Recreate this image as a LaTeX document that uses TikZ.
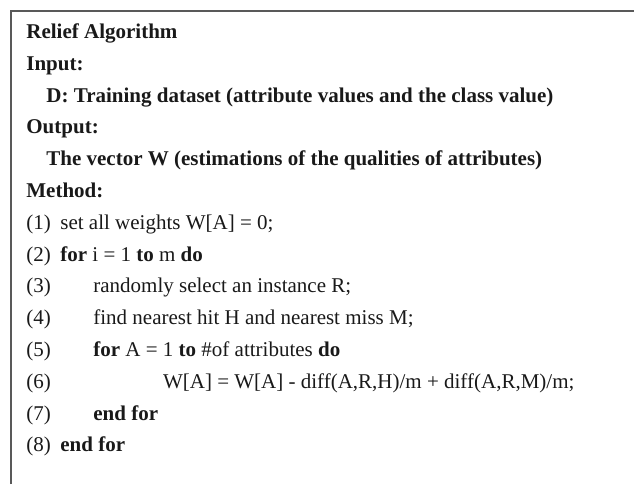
\documentclass[tikz,border=0pt]{standalone}
\usepackage{fontspec}
\setmainfont{Liberation Serif}

\begin{document}
\begin{tikzpicture}[x=0.5pt,y=-0.5pt,
    algline/.style={anchor=base west, inner sep=0pt, text=black!90,
      font=\fontsize{10.5}{12}\selectfont},
    alghead/.style={algline, font=\fontsize{10.5}{12}\selectfont\bfseries}]
        \useasboundingbox (0,0) rectangle (634,484);

        % Frame (open at right and bottom)
        \draw[black!65, line width=0.75pt] (11,484) -- (11,11) -- (634,11);

        % Header
        \node[alghead] (title) at (26,38.5) {Relief Algorithm};
        \node[alghead] (input) at (26,70.3) {Input:};
        \node[alghead] (data) at (46,102.1) {D: Training dataset (attribute values and the class value)};
        \node[alghead] (output) at (26,133.9) {Output:};
        \node[alghead] (vec) at (46,165.7) {The vector W (estimations of the qualities of attributes)};
        \node[alghead] (method) at (26,197.5) {Method:};

        % Line numbers
        \node[algline] (n1) at (26,229.3) {(1)};
        \node[algline] (n2) at (26,261.1) {(2)};
        \node[algline] (n3) at (26,292.9) {(3)};
        \node[algline] (n4) at (26,324.7) {(4)};
        \node[algline] (n5) at (26,356.5) {(5)};
        \node[algline] (n6) at (26,388.3) {(6)};
        \node[algline] (n7) at (26,420.1) {(7)};
        \node[algline] (n8) at (26,451.9) {(8)};

        % Steps
        \node[algline] (s1) at (60,229.3) {set all weights W[A] = 0;};
        \node[algline] (s2) at (60,261.1) {\textbf{for} i = 1 \textbf{to} m \textbf{do}};
        \node[algline] (s3) at (93,292.9) {randomly select an instance R;};
        \node[algline] (s4) at (93,324.7) {find nearest hit H and nearest miss M;};
        \node[algline] (s5) at (93,356.5) {\textbf{for} A = 1 \textbf{to} \#of attributes \textbf{do}};
        \node[algline] (s6) at (162.7,388.3) {W[A] = W[A] - diff(A,R,H)/m + diff(A,R,M)/m;};
        \node[alghead] (s7) at (93,420.1) {end for};
        \node[alghead] (s8) at (60,451.9) {end for};
\end{tikzpicture}
\end{document}
